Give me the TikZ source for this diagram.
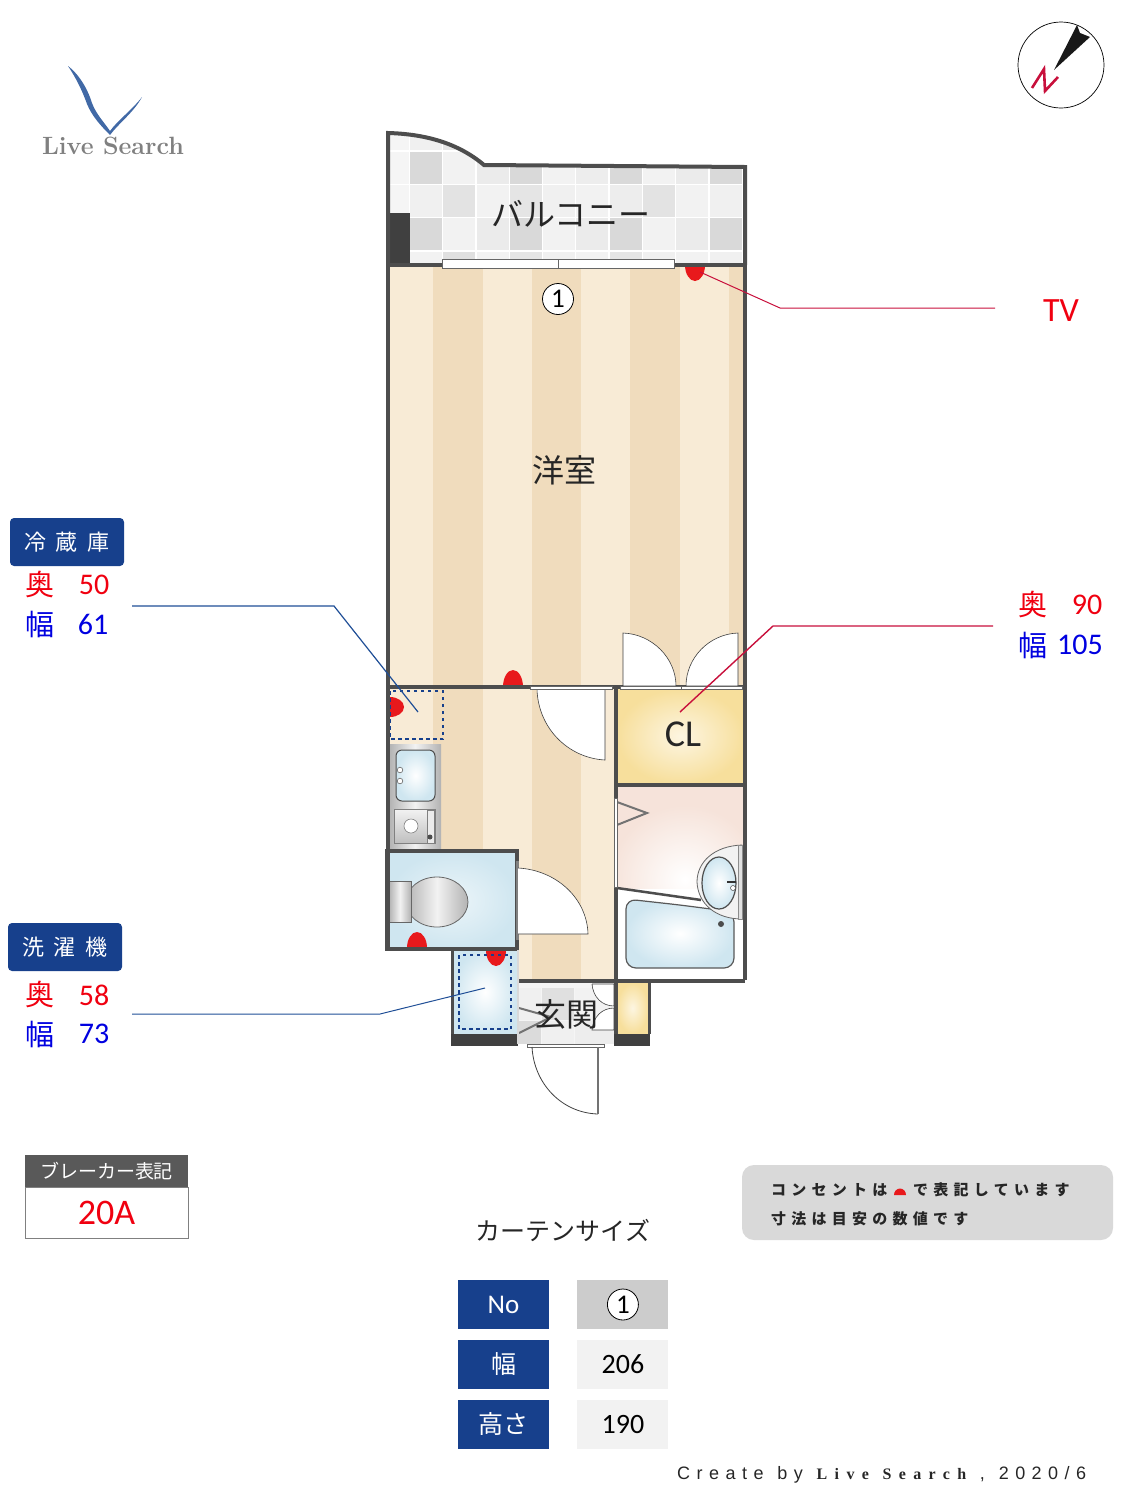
\documentclass[tikz,border=0pt]{standalone}
\usepackage{fontspec}
\usepackage{xcolor}
\setmainfont{Noto Sans CJK JP}
\newfontfamily\latinfont{Carlito}
\newfontfamily\logofont{Latin Modern Roman}
\newfontfamily\spacedfont[LetterSpace=35]{Noto Sans CJK JP}
\newfontfamily\footfont[LetterSpace=36,WordSpace=1.2]{Liberation Sans}
\newfontfamily\footserif[LetterSpace=46,WordSpace=1.2]{Liberation Serif}
\newcommand{\headgap}{\hspace{10pt}}
\usetikzlibrary{positioning, calc}
\definecolor{wallgray}{HTML}{4D4D4D}
\definecolor{woodlight}{HTML}{F8EBD6}
\definecolor{wooddark}{HTML}{F0DCBD}
\definecolor{outletred}{HTML}{E8191C}
\definecolor{navyhead}{HTML}{17408C}
\definecolor{leaderred}{HTML}{C8103C}
\definecolor{leaderblue}{HTML}{1F4E96}
\definecolor{waterblue}{HTML}{CFE6F0}
\definecolor{closetyellow}{HTML}{F7DF9C}
\definecolor{washpink}{HTML}{F6E3DA}
\definecolor{numred}{HTML}{F00010}
\definecolor{numblue}{HTML}{0000E0}
\tikzset{
    wall/.style={draw=wallgray, line width=4pt},
    outlet/.style={fill=outletred, draw=none},
    doorleaf/.style={fill=white, draw=black!75, line width=0.6pt},
    sash/.style={fill=white, draw=black!60, line width=0.6pt},
    foldleaf/.style={draw=black!55, line width=2pt},
    dashedbox/.style={draw=navyhead, line width=1.5pt, dash pattern=on 3.5pt off 3.5pt},
    roomlabel/.style={font=\fontsize{32}{32}\selectfont, text=black!85, inner sep=0pt},
    headbox/.style={fill=navyhead, rounded corners=4pt, minimum width=114pt, minimum height=48pt, text=white, inner sep=0pt, font=\fontsize{22}{22}\selectfont},
    cellhead/.style={fill=navyhead, minimum width=91pt, minimum height=49pt, text=white, inner sep=0pt, font=\fontsize{25}{25}\selectfont},
    cellval/.style={fill=black!5, minimum width=91pt, minimum height=49pt, inner sep=0pt, font=\latinfont\fontsize{28}{28}\selectfont},
    numberone/.style={circle, draw=black, fill=white, line width=0.8pt, minimum size=31pt, inner sep=0pt, font=\latinfont\fontsize{27}{27}\selectfont},
    redtext/.style={text=numred, inner sep=0pt, font=\fontsize{29}{29}\selectfont},
    bluetext/.style={text=numblue, inner sep=0pt, font=\fontsize{29}{29}\selectfont},
    rednum/.style={redtext, font=\latinfont\fontsize{30}{30}\selectfont},
    bluenum/.style={bluetext, font=\latinfont\fontsize{30}{30}\selectfont},
    noteline/.style={inner sep=0pt, anchor=west, text=black!85, font=\spacedfont\bfseries\fontsize{15}{15}\selectfont},
    silver/.style={left color=black!30, right color=black!30, middle color=black!5}
}
\begin{document}
\begin{tikzpicture}[x=1pt, y=-1pt]
    \useasboundingbox (0, 0) rectangle (1125, 1500);
    % logo
    \fill[leaderblue!85] (68, 66) .. controls (76, 72) and (86, 84) .. (92, 103) .. controls (96, 114) and (104, 122) .. (110, 131) .. controls (118, 120) and (132, 110) .. (142, 97) .. controls (134, 112) and (120, 122) .. (110, 135) .. controls (100, 125) and (92, 116) .. (87, 104) .. controls (82, 90) and (76, 78) .. cycle;
    \node[inner sep=0pt, text=black!50] (logotext) at (113, 146) {\logofont\bfseries\fontsize{25}{25}\selectfont Live Search};
    % compass
    \node[circle, draw=black, line width=0.7pt, minimum size=86pt, inner sep=0pt] (compass) at (1061, 65) {};
    \fill[black!90] (1054, 70) -- (1077, 25) -- (1080, 33) -- (1090, 37) -- cycle;
    \draw[leaderred, line width=2.6pt] (1032, 88) -- (1044, 69) -- (1045, 91) -- (1058, 77);
    % floor
    \foreach \xa/\xb/\c in {388/433/woodlight, 433/483/wooddark, 483/532/woodlight, 532/581/wooddark, 581/630/woodlight, 630/680/wooddark, 680/729/woodlight, 729/745/wooddark} {
        \fill[\c] (\xa, 265) rectangle (\xb, 687);
    }
    \begin{scope}
        \clip (388, 687) -- (615, 687) -- (615, 982) -- (518, 982) -- (518, 851) -- (388, 851) -- cycle;
        \foreach \xa/\xb/\c in {388/433/woodlight, 433/483/wooddark, 483/532/woodlight, 532/581/wooddark, 581/615/woodlight} {
            \fill[\c] (\xa, 687) rectangle (\xb, 982);
        }
    \end{scope}
    % balcony
    \begin{scope}
        \clip (388, 133) .. controls (425, 134) and (458, 143) .. (484, 165) -- (745, 167) -- (745, 265) -- (388, 265) -- cycle;
        \fill[white] (380, 125) rectangle (750, 270);
        \foreach \x/\y/\g in {
            376/118/96, 409/118/94, 442/118/90, 476/118/95,
            376/152/96, 409/152/85, 442/152/95, 476/152/92, 509/152/85, 542/152/95, 575/152/93, 609/152/85, 642/152/95, 675/152/92, 709/152/85,
            376/185/96, 409/185/94, 442/185/89, 476/185/95, 509/185/90, 542/185/94, 575/185/95, 609/185/93, 642/185/89, 675/185/95, 709/185/94,
            376/218/96, 409/218/85, 442/218/95, 476/218/92, 509/218/85, 542/218/95, 575/218/92, 609/218/85, 642/218/95, 675/218/92, 709/218/85,
            376/252/96, 409/252/95, 442/252/88, 476/252/95, 509/252/90, 542/252/94, 575/252/95, 609/252/90, 642/252/94, 675/252/95, 709/252/94
        } {
            \fill[black!\the\numexpr100-\g\relax] (\x+1, \y) rectangle (\x+32.5, \y+31.5);
        }
        \fill[black!75] (387, 213) rectangle (410, 265);
    \end{scope}
    \draw[wall] (388, 265) -- (388, 133) .. controls (425, 134) and (458, 143) .. (484, 165) -- (745, 167) -- (745, 265);
    % closet
    \shade[inner color=closetyellow!30, outer color=closetyellow] (617, 689) rectangle (744, 784);
    % washroom
    \begin{scope}
        \clip (617, 787) rectangle (744, 888);
        \fill[washpink] (617, 787) rectangle (744, 888);
        \shade[inner color=white, outer color=washpink] (685, 880) circle (75pt);
    \end{scope}
    \fill[white] (617, 888) -- (703, 900) -- (744, 905) -- (744, 980) -- (617, 980) -- cycle;
    % bath tub
    \shade[draw=black!65, line width=1.2pt, rounded corners=10pt, inner color=white, outer color=waterblue] (680, 905) -- (734, 912) -- (734, 968) -- (626, 968) -- (626, 899) -- cycle;
    \fill[black!70] (721, 924) circle (3pt);
    \draw[wallgray, line width=2.5pt] (617, 888) -- (701, 900);
    % sink
    \filldraw[fill=black!5, draw=black!60, line width=0.8pt] (742, 845) .. controls (714, 846) and (697, 862) .. (697, 882) .. controls (698, 904) and (716, 919) .. (742, 919) -- cycle;
    \filldraw[fill=black!12, draw=black!45, line width=0.5pt] (738, 845) rectangle (742, 919);
    \shade[draw=wallgray, line width=1.2pt, inner color=white, outer color=waterblue] (719, 883) ellipse (17pt and 26pt);
    \draw[black!80, line width=1.5pt] (727, 882) -- (736, 882);
    \filldraw[draw=black!70, fill=white, line width=0.5pt] (733, 888) circle (2.5pt);
    % folded doors
    \draw[foldleaf] (617, 802) -- (647, 813) -- (617, 825);
    % toilet
    \shade[inner color=white!60!waterblue, outer color=waterblue] (388, 852) rectangle (517, 949);
    \shade[draw=black!60, line width=0.8pt, shading angle=45, silver] (437, 902) ellipse (31pt and 25pt);
    \shade[draw=black!60, line width=0.8pt, shading angle=45, silver] (389, 881) rectangle (411, 922);
    % washing machine pan
    \shade[inner color=white, outer color=waterblue] (453, 950) rectangle (517, 1034);
    % entrance
    \fill[black!4] (518, 982) rectangle (614, 1044);
    \foreach \xa/\ya/\xb/\yb/\g in {518/988/541/1020/6, 542/988/574/1020/12, 575/988/614/1020/5, 518/1021/541/1044/14, 542/1021/574/1044/6, 575/1021/614/1044/7} {
        \fill[black!\g] (\xa, \ya) rectangle (\xb, \yb);
    }
    \draw[foldleaf] (519, 1008) -- (551, 1017) -- (519, 1033);
    \shade[inner color=closetyellow!30, outer color=closetyellow] (617, 983) rectangle (648, 1033);
    \draw[doorleaf] (592, 984) -- (614, 984) -- (614, 1006) .. controls (602, 1006) and (593, 997) .. (592, 984);
    \draw[doorleaf] (614, 1008) .. controls (602, 1008) and (593, 1017) .. (592, 1030) -- (614, 1030) -- cycle;
    % kitchen
    \shade[silver] (389, 744) rectangle (441, 849);
    \shade[draw=wallgray, line width=1pt, rounded corners=6pt, inner color=white, outer color=waterblue] (396, 750) rectangle (435, 801);
    \filldraw[draw=black!60, fill=white, line width=0.6pt] (400, 770) circle (2.8pt) (400, 781) circle (2.8pt);
    \shade[draw=black!50, line width=0.6pt, top color=black!5, bottom color=black!25] (394, 809) rectangle (435, 843);
    \filldraw[draw=black!50, fill=white, line width=0.6pt] (411, 826) circle (7pt);
    \filldraw[draw=black!50, fill=black!8, line width=0.6pt] (427, 810) rectangle (434, 843);
    \fill[black!70] (430, 837) circle (2.5pt);
    % outlets
    \fill[outlet] (685, 265) arc[start angle=180, end angle=360, x radius=10pt, y radius=16pt] -- cycle;
    \fill[outlet] (503, 687) arc[start angle=180, end angle=0, x radius=10pt, y radius=17pt] -- cycle;
    \fill[outlet] (390, 697) arc[start angle=90, end angle=-90, x radius=14pt, y radius=10pt] -- cycle;
    \fill[outlet] (407, 948) arc[start angle=180, end angle=0, x radius=10pt, y radius=16pt] -- cycle;
    \fill[outlet] (486, 950) arc[start angle=180, end angle=360, x radius=10pt, y radius=16pt] -- cycle;
    % dashed boxes
    \draw[dashedbox] (390, 691) rectangle (443, 739);
    \draw[dashedbox] (459, 955) rectangle (511, 1029);
    % walls
    \draw[wall] (388, 265) -- (745, 265);
    \draw[wall] (388, 265) -- (388, 950);
    \draw[wall] (745, 265) -- (745, 980);
    \draw[wall] (388, 687) -- (745, 687);
    \draw[wall] (616, 687) -- (616, 800);
    \draw[wall] (616, 887) -- (616, 1034);
    \draw[wall] (616, 785) -- (745, 785);
    \draw[wall] (518, 981) -- (745, 981);
    \draw[wall] (387, 851) rectangle (517, 949);
    \draw[wall, line width=3pt] (452, 950) -- (452, 1034);
    \draw[wall, line width=3pt] (649, 981) -- (649, 1034);
    \fill[black!75] (451, 1034) rectangle (518, 1046);
    \fill[black!75] (614, 1034) rectangle (650, 1046);
    \draw[sash] (614.5, 798) rectangle (617.5, 887);
    \fill[black!50] (516, 861) rectangle (519, 940);
    \fill[black!15] (517, 950) rectangle (519, 1044);
    % doors
    \draw[doorleaf] (623, 686) -- (623, 633) .. controls (652, 634) and (676, 658) .. (676, 686) -- cycle;
    \draw[doorleaf] (738, 686) -- (738, 633) .. controls (709, 634) and (686, 658) .. (686, 686) -- cycle;
    \draw[sash] (620, 686) rectangle (681, 689);
    \draw[sash] (681, 686) rectangle (742, 689);
    \draw[doorleaf] (605, 689) -- (605, 760) .. controls (568, 758) and (538, 728) .. (537, 689) -- cycle;
    \draw[sash] (530, 686) rectangle (612, 689);
    \draw[doorleaf] (518, 868) .. controls (556, 870) and (587, 898) .. (588, 934) -- (518, 934);
    \draw[sash] (527, 1044) rectangle (604, 1047);
    \draw[black!75, line width=0.8pt] (532, 1047) .. controls (534, 1084) and (562, 1113) .. (598, 1114);
    \draw[black!55, line width=1.5pt] (598, 1047) -- (598, 1114);
    \draw[sash] (442, 259) rectangle (558, 268);
    \draw[sash] (558, 259) rectangle (674, 268);
    % room labels
    \node[roomlabel] (balcony) at (571, 214) {バルコニー};
    \node[roomlabel] (western) at (564, 470) {洋室};
    \node[roomlabel, font=\latinfont\fontsize{38}{38}\selectfont] (cl) at (683, 734) {CL};
    \node[roomlabel] (entrance) at (566, 1014) {玄関};
    \node[numberone] (curtainone) at (558, 299) {1};
    % leaders
    \coordinate (tvfrom) at (700, 272);
    \coordinate (tvbend) at (780, 308);
    \coordinate (tvto) at (995, 308);
    \coordinate (clfrom) at (680, 712);
    \coordinate (clbend) at (773, 626);
    \coordinate (clto) at (993, 626);
    \coordinate (fridgefrom) at (418, 712);
    \coordinate (fridgebend) at (334, 606);
    \coordinate (fridgeto) at (132, 606);
    \coordinate (washfrom) at (485, 988);
    \coordinate (washbend) at (380, 1014);
    \coordinate (washto) at (132, 1014);
    \draw[leaderred, line width=1pt] (tvfrom) -- (tvbend) -- (tvto);
    \draw[leaderred, line width=1.4pt] (clfrom) -- (clbend) -- (clto);
    \draw[leaderblue, line width=1.2pt] (fridgefrom) -- (fridgebend) -- (fridgeto);
    \draw[leaderblue, line width=1pt] (washfrom) -- (washbend) -- (washto);
    % size labels
    \node[rednum, font=\latinfont\fontsize{34}{34}\selectfont] (tvlabel) at (1061, 311) {TV};
    \node[redtext] (cldepth) at (1033, 604) {奥};
    \node[rednum] (cldepthval) at (1087, 605) {90};
    \node[bluetext] (clwidth) at (1033, 645) {幅};
    \node[bluenum] (clwidthval) at (1080, 645) {105};
    \node[headbox] (fridgehead) at (67, 542) {冷\headgap 蔵\headgap 庫};
    \node[redtext] (fridgedepth) at (40, 584) {奥};
    \node[rednum] (fridgedepthval) at (94, 585) {50};
    \node[bluetext] (fridgewidth) at (40, 624) {幅};
    \node[bluenum] (fridgewidthval) at (93, 624) {61};
    \node[headbox] (washhead) at (65, 947) {洗\headgap 濯\headgap 機};
    \node[redtext] (washdepth) at (40, 994) {奥};
    \node[rednum] (washdepthval) at (94, 995) {58};
    \node[bluetext] (washwidth) at (40, 1034) {幅};
    \node[bluenum] (washwidthval) at (94, 1034) {73};
    % breaker
    \node[fill=black!65, text=white, minimum width=163pt, minimum height=33pt, inner sep=0pt, font=\fontsize{19}{19}\selectfont] (breakerhead) at (106.5, 1171) {ブレーカー表記};
    \node[fill=white, draw=black!50, line width=0.8pt, text=numred, minimum width=163pt, minimum height=51pt, inner sep=0pt, font=\latinfont\fontsize{36}{36}\selectfont] (breakerval) at (106.5, 1212.5) {20A};
    % note
    \node[fill=black!15, rounded corners=12pt, minimum width=371pt, minimum height=75pt, inner sep=0pt] (notebox) at (927.5, 1202.5) {};
    \node[noteline] (notea) at (771, 1190) {コンセントは};
    \fill[outletred] (894, 1195) arc[start angle=180, end angle=0, x radius=6pt, y radius=6.5pt] -- cycle;
    \node[noteline] (noteb) at (913, 1190) {で表記しています};
    \node[noteline] (notec) at (771, 1219) {寸法は目安の数値です};
    % curtain table
    \node[inner sep=0pt, text=black!85, font=\fontsize{25}{25}\selectfont] (curtaintitle) at (563, 1230) {カーテンサイズ};
    \node[cellhead, font=\latinfont\fontsize{27}{27}\selectfont] (nohead) at (503.5, 1304.5) {No};
    \node[cellval, fill=black!20, right=28pt of nohead] (nocell) {};
    \node[numberone] (tableone) at (nocell) {1};
    \node[cellhead, below=10.5pt of nohead] (widthhead) {幅};
    \node[cellval, right=28pt of widthhead] (widthcell) {206};
    \node[cellhead, below=10.5pt of widthhead] (heighthead) {高さ};
    \node[cellval, right=28pt of heighthead] (heightcell) {190};
    % footer
    \node[inner sep=0pt, anchor=west, text=black!85] (footer) at (677, 1475) {\footfont\fontsize{18}{18}\selectfont Create by {\footserif\bfseries\fontsize{16}{16}\selectfont Live Search} , 2020/6};
\end{tikzpicture}
\end{document}
